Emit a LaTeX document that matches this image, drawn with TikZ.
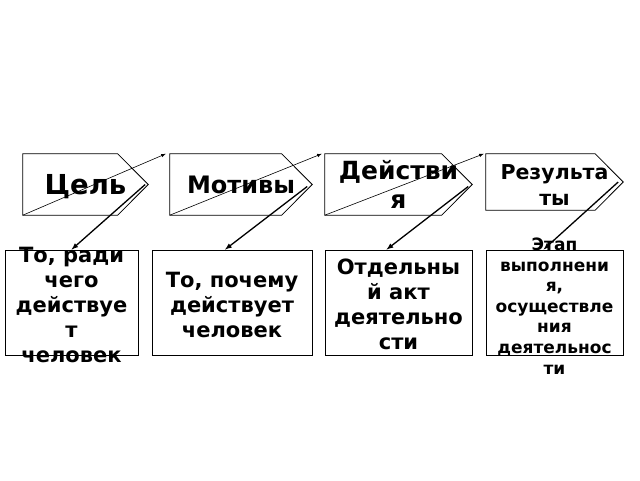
\documentclass[tikz,border=0pt]{standalone}
\usepackage{fontspec}
\setmainfont{DejaVu Sans}
\usetikzlibrary{arrows}
\usetikzlibrary{positioning}

% text that does not stretch its box
\newcommand{\flattext}[1]{\smash{\raisebox{-10pt}{\begin{tabular}{@{}c@{}}#1\end{tabular}}}}

\tikzstyle{head_box} = [
    rectangle,
    inner sep=0pt,
    minimum height=61pt,
    align=center
]
\tikzstyle{desc_box} = [
    rectangle,
    draw=black,
    line width=0.8pt,
    inner sep=0pt,
    minimum height=105pt,
    font=\fontsize{21}{25}\selectfont\bfseries
]
\tikzstyle{chain_arrow} = [-latex, line width=0.6pt]
\tikzstyle{drop_arrow} = [-latex, line width=1.3pt]

\begin{document}
\begin{tikzpicture}[x=1pt, y=-1pt]
\useasboundingbox (0,0) rectangle (640,480);

\node [head_box, minimum width=125pt, font=\fontsize{27.5}{30}\selectfont\bfseries] (goal) at (85.5,184.5) {\flattext{Цель\hspace{6pt}}};
\node [head_box, minimum width=142pt, font=\fontsize{24}{26}\selectfont\bfseries] (motive) at (241,184.5) {\flattext{Мотивы\hspace{8pt}}};
\node [head_box, minimum width=147pt, font=\fontsize{25}{29}\selectfont\bfseries] (action) at (398.5,184.5) {\flattext{Действи\\я}};
\node [head_box, minimum width=137pt, minimum height=56pt, font=\fontsize{20.5}{26}\selectfont\bfseries] (result) at (554.5,182) {\flattext{Результа\\ты}};

\foreach \n/\t in {goal/30.5, motive/30.5, action/30.5, result/28}
    \draw [line width=0.8pt] (\n.north west) -- ([xshift=-\t pt]\n.north east) -- (\n.east)
        -- ([xshift=-\t pt]\n.south east) -- (\n.south west) -- cycle;

\node [desc_box, minimum width=133pt] (b_goal) at (71.5,302.5) {\flattext{То, ради\\чего\\действуе\\т\\человек}};
\node [desc_box, minimum width=160pt] (b_motive) at (232,302.5) {\flattext{То, почему\\действует\\человек}};
\node [desc_box, minimum width=147pt] (b_action) at (398.5,302.5) {\flattext{Отдельны\\й акт\\деятельно\\сти}};
\node [desc_box, minimum width=137pt, font=\fontsize{17}{20.6}\selectfont\bfseries] (b_result) at (554.5,302.5) {\flattext{Этап\\выполнени\\я,\\осуществле\\ния\\деятельнос\\ти}};

\draw [chain_arrow] (goal.south west) -- ([xshift=-4pt]motive.north west);
\draw [chain_arrow] (motive.south west) -- ([xshift=-3pt]action.north west);
\draw [chain_arrow] (action.south west) -- ([xshift=-2pt]result.north west);

\draw [drop_arrow] ([xshift=-3pt]goal.east) -- (b_goal.north);
\draw [drop_arrow] ([xshift=-5pt,yshift=-2pt]motive.east) -- ([xshift=-7pt]b_motive.north);
\draw [drop_arrow] ([xshift=-4pt,yshift=-2pt]action.east) -- ([xshift=-12pt]b_action.north);
\draw [drop_arrow] ([xshift=-5pt]result.east) -- ([xshift=-11pt]b_result.north);
\end{tikzpicture}
\end{document}
